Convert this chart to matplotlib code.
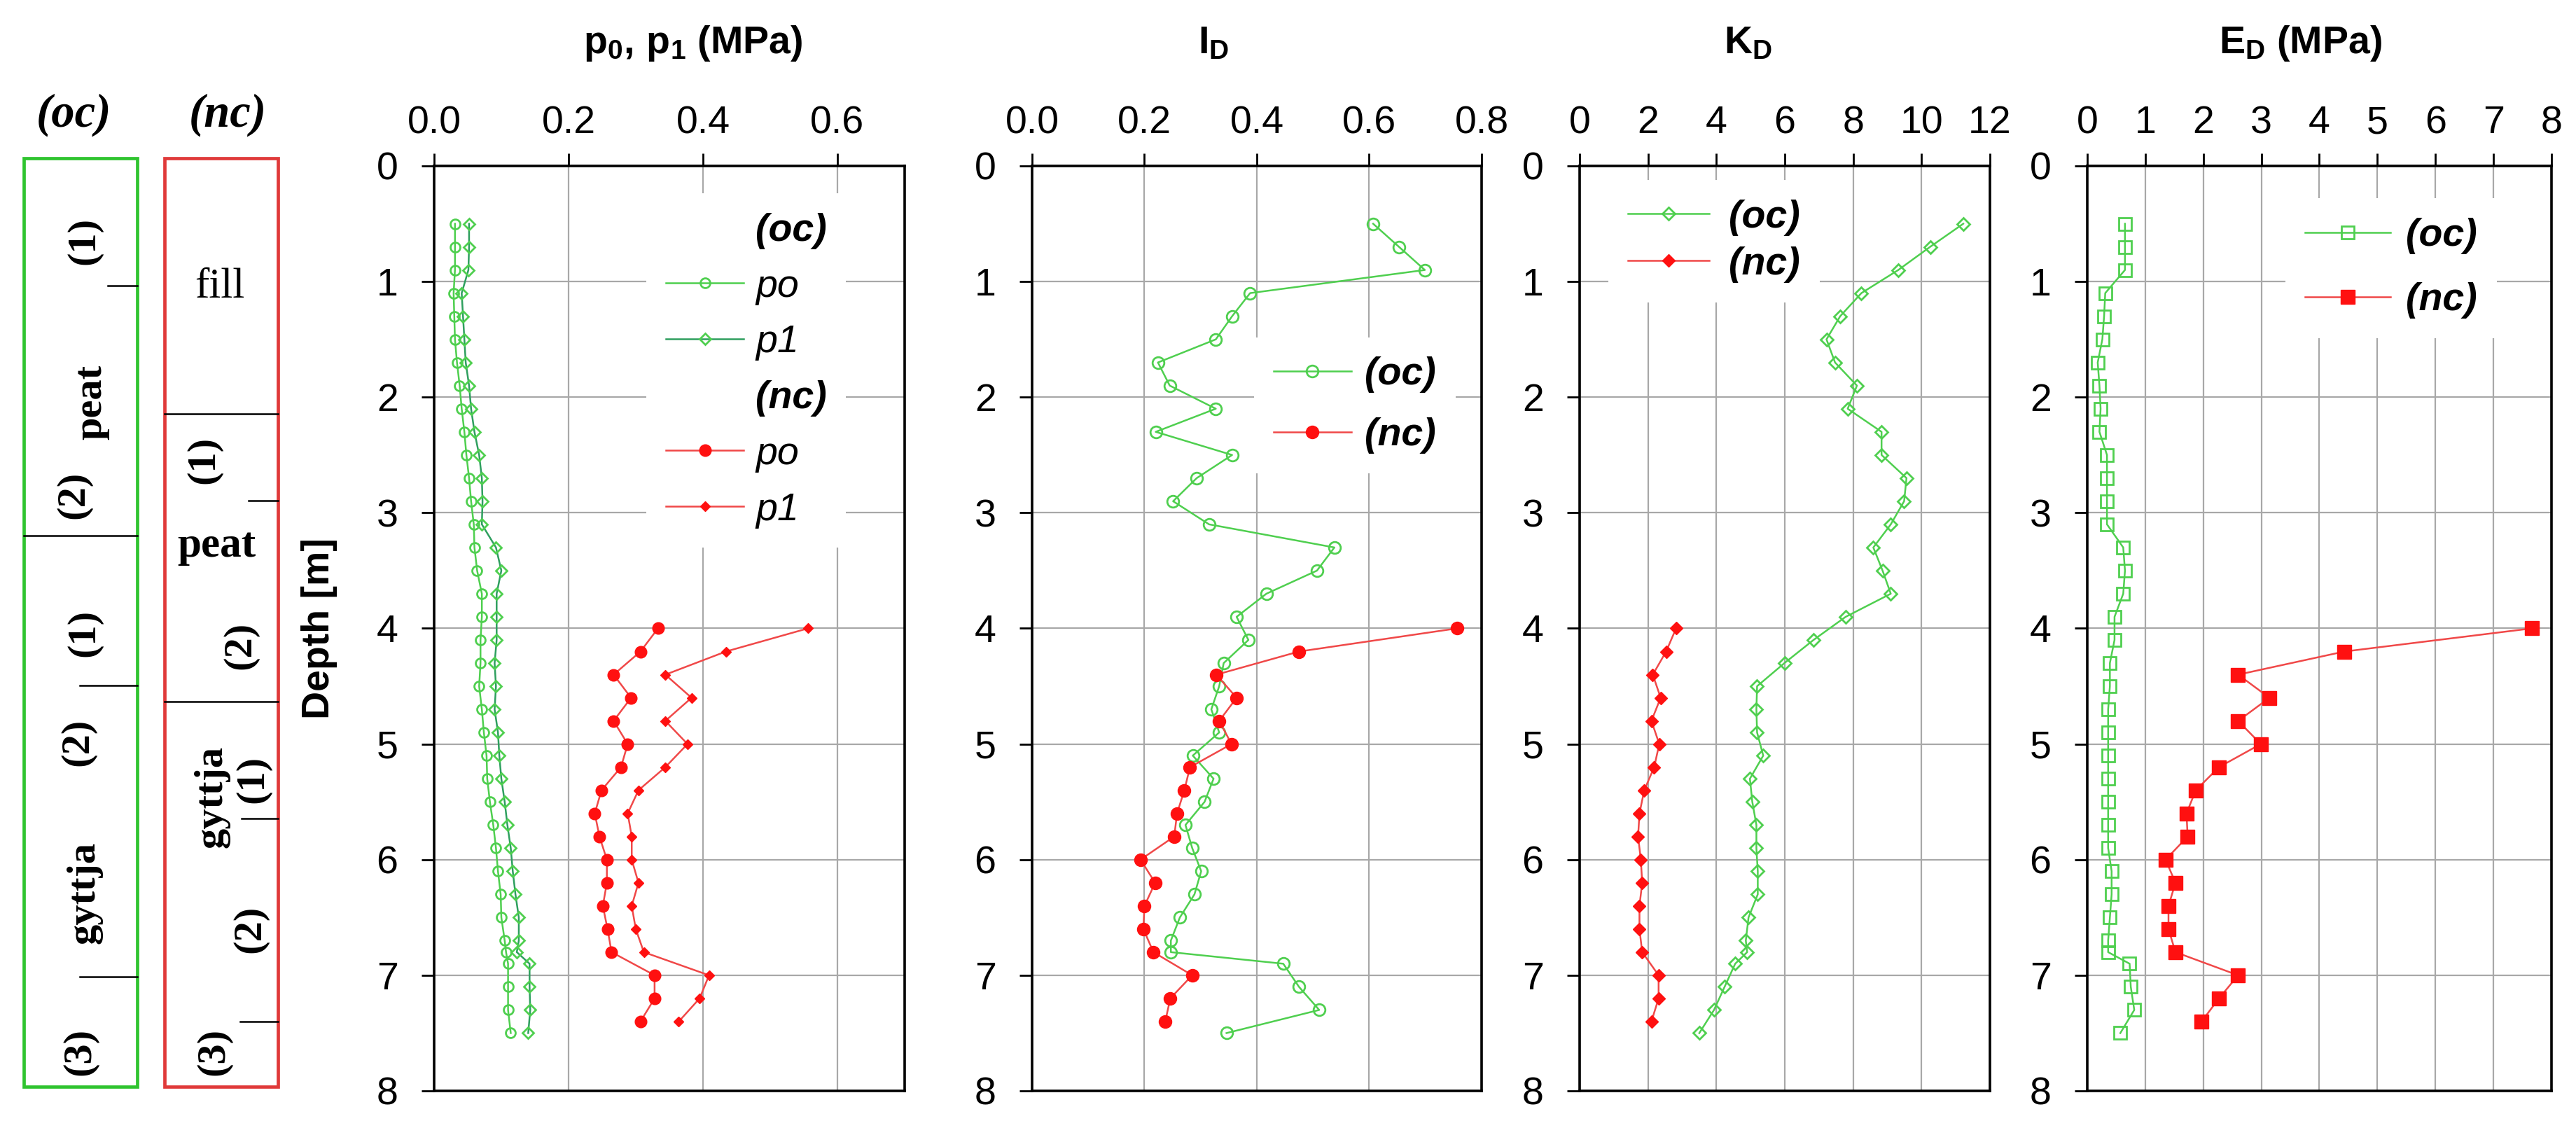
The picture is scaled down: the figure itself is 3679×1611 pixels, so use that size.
import matplotlib
matplotlib.use('Agg')
import matplotlib.pyplot as plt
from matplotlib.lines import Line2D
from matplotlib.patches import Rectangle

plt.rcParams['font.family'] = ['Liberation Sans', 'DejaVu Sans']
plt.rcParams['mathtext.fontset'] = 'custom'
plt.rcParams['mathtext.rm'] = 'Liberation Sans'
plt.rcParams['mathtext.bf'] = 'Liberation Sans:bold'
plt.rcParams['mathtext.it'] = 'Liberation Sans:italic'

# ---------------- data ----------------
depth_oc = [0.5, 0.7, 0.9, 1.1, 1.3, 1.5, 1.7, 1.9, 2.1, 2.3, 2.5, 2.7, 2.9, 3.1,
            3.3, 3.5, 3.7, 3.9, 4.1, 4.3, 4.5, 4.7, 4.9, 5.1, 5.3, 5.5, 5.7, 5.9,
            6.1, 6.3, 6.5, 6.7, 6.8, 6.9, 7.1, 7.3, 7.5]
depth_nc = [4.0, 4.2, 4.4, 4.6, 4.8, 5.0, 5.2, 5.4, 5.6, 5.8, 6.0, 6.2, 6.4, 6.6,
            6.8, 7.0, 7.2, 7.4]

p0_oc = [0.031, 0.031, 0.031, 0.029, 0.030, 0.031, 0.034, 0.038, 0.041, 0.045, 0.048,
         0.052, 0.055, 0.059, 0.060, 0.064, 0.071, 0.071, 0.069, 0.069, 0.067, 0.071,
         0.074, 0.078, 0.079, 0.083, 0.088, 0.092, 0.095, 0.099, 0.100, 0.105, 0.107,
         0.110, 0.110, 0.110, 0.114]
p1_oc = [0.052, 0.052, 0.051, 0.041, 0.043, 0.045, 0.047, 0.052, 0.055, 0.060, 0.067,
         0.071, 0.072, 0.071, 0.092, 0.100, 0.093, 0.093, 0.093, 0.090, 0.092, 0.090,
         0.095, 0.097, 0.100, 0.105, 0.109, 0.114, 0.117, 0.121, 0.126, 0.126, 0.123,
         0.142, 0.142, 0.143, 0.140]
p0_nc = [0.333, 0.307, 0.267, 0.293, 0.267, 0.288, 0.278, 0.249, 0.239, 0.246, 0.257,
         0.257, 0.251, 0.258, 0.264, 0.328, 0.328, 0.307]
p1_nc = [0.556, 0.434, 0.344, 0.383, 0.344, 0.377, 0.344, 0.304, 0.288, 0.294, 0.294,
         0.304, 0.294, 0.300, 0.312, 0.409, 0.395, 0.364]

ID_oc = [0.607, 0.653, 0.699, 0.388, 0.356, 0.327, 0.224, 0.245, 0.327, 0.220, 0.356,
         0.293, 0.251, 0.315, 0.538, 0.507, 0.417, 0.364, 0.385, 0.341, 0.333, 0.319,
         0.333, 0.286, 0.323, 0.307, 0.273, 0.285, 0.301, 0.289, 0.263, 0.247, 0.247,
         0.447, 0.475, 0.511, 0.346]
ID_nc = [0.756, 0.475, 0.328, 0.364, 0.333, 0.355, 0.281, 0.271, 0.258, 0.253, 0.193,
         0.219, 0.200, 0.198, 0.216, 0.285, 0.246, 0.237]

KD_oc = [11.22, 10.25, 9.32, 8.24, 7.62, 7.22, 7.47, 8.11, 7.84, 8.83, 8.83, 9.56,
         9.49, 9.10, 8.59, 8.86, 9.10, 7.78, 6.84, 5.99, 5.19, 5.17, 5.19, 5.37, 4.98,
         5.05, 5.17, 5.17, 5.21, 5.21, 4.94, 4.86, 4.90, 4.55, 4.24, 3.93, 3.50]
KD_nc = [2.82, 2.53, 2.14, 2.37, 2.10, 2.33, 2.18, 1.89, 1.75, 1.71, 1.79, 1.83, 1.75,
         1.75, 1.83, 2.31, 2.31, 2.10]

ED_oc = [0.65, 0.65, 0.65, 0.31, 0.29, 0.26, 0.18, 0.21, 0.23, 0.21, 0.34, 0.34, 0.34,
         0.34, 0.62, 0.65, 0.62, 0.47, 0.47, 0.39, 0.39, 0.36, 0.36, 0.36, 0.36, 0.36,
         0.36, 0.36, 0.42, 0.42, 0.39, 0.36, 0.36, 0.73, 0.75, 0.81, 0.57]
ED_nc = [7.66, 4.43, 2.60, 3.14, 2.60, 2.99, 2.27, 1.87, 1.71, 1.73, 1.35, 1.52, 1.40,
         1.40, 1.52, 2.60, 2.27, 1.97]

p_ticks = [0.0, 0.2, 0.4, 0.6]
ID_ticks = [0.0, 0.2, 0.4, 0.6, 0.8]
KD_ticks = [0, 2, 4, 6, 8, 10, 12]
ED_ticks = [0, 1, 2, 3, 4, 5, 6, 7, 8]
depth_ticks = [0, 1, 2, 3, 4, 5, 6, 7, 8]

# soil columns (depths in m)
oc_full_lines = [3.25]
oc_part_lines = [(154, 1.1), (114, 4.54), (114, 7.05)]
oc_labels = [('(1)', 120, 0.71), ('peat', 130, 2.1), ('(2)', 105, 2.9), ('(1)', 120, 4.09),
             ('(2)', 111, 5.03), ('gyttja', 121, 6.33), ('(3)', 114, 7.7)]
nc_full_lines = [2.2, 4.68]
nc_part_lines = [(355, 2.95), (345, 5.69), (343, 7.44)]
nc_labels_h = [('fill', 314, 1.11), ('peat', 309, 3.34)]
nc_labels_v = [('(1)', 291, 2.6), ('(2)', 343, 4.2), ('gyttja', 302, 5.5), ('(1)', 361, 5.35),
               ('(2)', 357, 6.64), ('(3)', 305, 7.7)]

# ---------------- styles ----------------
G = '#4fcf4f'
G2 = '#2f9f5f'
R = '#ff1010'
RL = '#f04848'
FS = 40
LW = 1.8
MEW = 2.0

fig = plt.figure(figsize=(36.8, 16.11), dpi=100)
top, bottom = 0.8529, 0.0329
h = top - bottom
specs = [(0.16848, 0.1826), (0.40054, 0.17446), (0.61304, 0.15924), (0.81005, 0.18016)]
axes = [fig.add_axes([l, bottom, w, h]) for l, w in specs]


def style(ax, xlim, xticks, fmt):
    ax.set_xlim(*xlim)
    ax.set_ylim(8, 0)
    ax.set_xticks(xticks)
    ax.set_xticklabels([fmt.format(v) for v in xticks])
    ax.set_yticks(depth_ticks)
    ax.set_yticklabels([str(v) for v in depth_ticks])
    ax.xaxis.tick_top()
    ax.tick_params(axis='x', direction='out', length=13, width=2, pad=12,
                   labelsize=FS, top=True, bottom=False, colors='black')
    ax.tick_params(axis='y', direction='out', length=13, width=2, pad=24,
                   labelsize=FS, left=True, right=False)
    ax.grid(True, color='#a8a8a8', lw=1.6)
    ax.set_axisbelow(True)
    for s in ax.spines.values():
        s.set_linewidth(2.6)
        s.set_color('black')


def fix_legend(leg, labels, bold_set):
    fr = leg.get_frame()
    fr.set_facecolor('white')
    fr.set_edgecolor('none')
    fr.set_alpha(1)
    fr.set_boxstyle('square', pad=0)
    for t, lab in zip(leg.get_texts(), labels):
        t.set_style('italic')
        if lab in bold_set:
            t.set_weight('bold')


# ---- panel 1: p0, p1 ----
ax = axes[0]
style(ax, (0, 0.7), p_ticks, '{:.1f}')
h1, = ax.plot(p0_oc, depth_oc, color=G, lw=LW, marker='o', ms=10, mfc='none', mec=G, mew=MEW)
h2, = ax.plot(p1_oc, depth_oc, color=G2, lw=LW, marker='D', ms=8, mfc='none', mec=G, mew=MEW)
h3, = ax.plot(p0_nc, depth_nc, color=RL, lw=LW, marker='o', ms=12, mfc=R, mec=R)
h4, = ax.plot(p1_nc, depth_nc, color=RL, lw=LW, marker='D', ms=7, mfc=R, mec=R)
blank = Line2D([], [], ls='none', marker=None)
labs = ['(oc)', 'po', 'p1', '(nc)', 'po', 'p1']
leg = ax.legend([blank, h1, h2, blank, h3, h4], labs, loc='center left',
                bbox_to_anchor=(0.316, 1.77), bbox_transform=ax.transData,
                borderaxespad=0, fontsize=FS, handlelength=2.0, handletextpad=0.3,
                labelspacing=0.5, borderpad=0.5, frameon=True, fancybox=False)
fix_legend(leg, labs, {'(oc)', '(nc)'})
ax.set_ylabel('Depth [m]', fontsize=FS, fontweight='bold', labelpad=40)

# ---- panel 2: ID ----
ax = axes[1]
style(ax, (0, 0.8), ID_ticks, '{:.1f}')
a1, = ax.plot(ID_oc, depth_oc, color=G, lw=LW, marker='o', ms=12, mfc='none', mec=G, mew=MEW)
a2, = ax.plot(ID_nc, depth_nc, color=RL, lw=LW, marker='o', ms=13, mfc=R, mec=R)
labs = ['(oc)', '(nc)']
leg = ax.legend([a1, a2], labs, loc='center left', bbox_to_anchor=(0.395, 2.07),
                bbox_transform=ax.transData, borderaxespad=0, fontsize=FS,
                handlelength=2.0, handletextpad=0.35, labelspacing=0.63, borderpad=0.5,
                frameon=True, fancybox=False)
fix_legend(leg, labs, set(labs))

# ---- panel 3: KD ----
ax = axes[2]
style(ax, (0, 12), KD_ticks, '{:g}')
k1, = ax.plot(KD_oc, depth_oc, color=G, lw=LW, marker='D', ms=9, mfc='none', mec=G, mew=MEW)
k2, = ax.plot(KD_nc, depth_nc, color=RL, lw=LW, marker='D', ms=9.5, mfc=R, mec=R)
leg = ax.legend([k1, k2], labs, loc='center left', bbox_to_anchor=(0.84, 0.65),
                bbox_transform=ax.transData, borderaxespad=0, fontsize=FS,
                handlelength=2.1, handletextpad=0.5, labelspacing=0.27, borderpad=0.5,
                frameon=True, fancybox=False)
fix_legend(leg, labs, set(labs))

# ---- panel 4: ED ----
ax = axes[3]
style(ax, (0, 8), ED_ticks, '{:g}')
e1, = ax.plot(ED_oc, depth_oc, color=G, lw=LW, marker='s', ms=13, mfc='none', mec=G, mew=MEW)
e2, = ax.plot(ED_nc, depth_nc, color=RL, lw=LW, marker='s', ms=14, mfc=R, mec=R)
leg = ax.legend([e1, e2], labs, loc='center left', bbox_to_anchor=(3.415, 0.885),
                bbox_transform=ax.transData, borderaxespad=0, fontsize=FS,
                handlelength=2.2, handletextpad=0.4, labelspacing=0.72, borderpad=0.5,
                frameon=True, fancybox=False)
fix_legend(leg, labs, set(labs))

# ---- titles ----
fig.text(0.269, 0.9615, r'$\mathbf{p_0,\,p_1\ (MPa)}$', fontsize=FS, ha='center', va='center')
fig.text(0.4709, 0.9615, r'$\mathbf{I_D}$', fontsize=FS, ha='center', va='center')
fig.text(0.6785, 0.9615, r'$\mathbf{K_D}$', fontsize=FS, ha='center', va='center')
fig.text(0.8927, 0.9615, r'$\mathbf{E_D\ (MPa)}$', fontsize=FS, ha='center', va='center')

# ---- soil columns ----
sax = fig.add_axes([0, 0.03662, 420 / 3680, 0.8231])
sax.set_xlim(0, 420)
sax.set_ylim(8, 0)
sax.axis('off')
serif = ['Liberation Serif', 'DejaVu Serif']
SFS = 42
sax.add_patch(Rectangle((34, 0), 162, 8, fill=False, ec='#2fc42f', lw=3.4, clip_on=False))
sax.add_patch(Rectangle((235, 0), 162, 8, fill=False, ec='#e03a3a', lw=3.4, clip_on=False))
for d in oc_full_lines:
    sax.plot([34, 196], [d, d], color='black', lw=1.8)
for x0, d in oc_part_lines:
    sax.plot([x0, 196], [d, d], color='black', lw=1.8)
for d in nc_full_lines:
    sax.plot([235, 397], [d, d], color='black', lw=1.8)
for x0, d in nc_part_lines:
    sax.plot([x0, 397], [d, d], color='black', lw=1.8)
for txt, x, d in oc_labels:
    sax.text(x, d, txt, rotation=90, ha='center', va='center', fontsize=SFS,
             fontweight='bold', family=serif)
for txt, x, d in nc_labels_v:
    sax.text(x, d, txt, rotation=90, ha='center', va='center', fontsize=SFS,
             fontweight='bold', family=serif)
for txt, x, d in nc_labels_h:
    sax.text(x, d, txt, ha='center', va='center', fontsize=SFS + 2,
             fontweight='bold' if txt == 'peat' else 'normal', family=serif)
sax.text(105, -0.37, '(oc)', ha='center', va='center', fontsize=48, fontweight='bold',
         style='italic', family=serif, clip_on=False)
sax.text(325, -0.37, '(nc)', ha='center', va='center', fontsize=48, fontweight='bold',
         style='italic', family=serif, clip_on=False)

fig.savefig('out.png', dpi=100)
